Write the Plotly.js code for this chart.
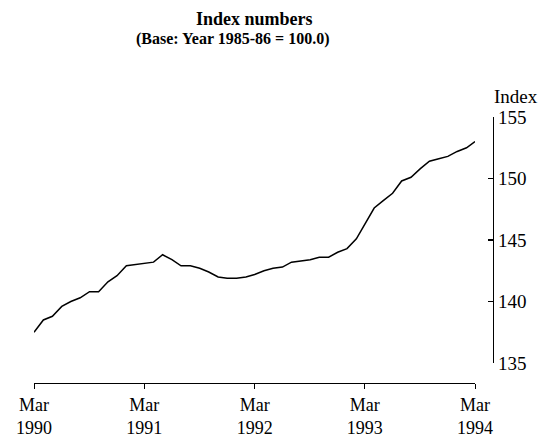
<!DOCTYPE html>
<html>
<head>
<meta charset="utf-8">
<script src="https://cdn.plot.ly/plotly-3.0.1.min.js"></script>
<style>html,body{margin:0;padding:0;background:#fff}#chart{width:544px;height:439px}</style>
</head>
<body>
<div id="chart"></div>
<script>
const months = [
  "1990-03","1990-04","1990-05","1990-06","1990-07","1990-08","1990-09","1990-10","1990-11","1990-12","1991-01","1991-02",
  "1991-03","1991-04","1991-05","1991-06","1991-07","1991-08","1991-09","1991-10","1991-11","1991-12","1992-01","1992-02",
  "1992-03","1992-04","1992-05","1992-06","1992-07","1992-08","1992-09","1992-10","1992-11","1992-12","1993-01","1993-02",
  "1993-03","1993-04","1993-05","1993-06","1993-07","1993-08","1993-09","1993-10","1993-11","1993-12","1994-01","1994-02",
  "1994-03"
];
const indexValues = [
  137.5,138.5,138.8,139.6,140.0,140.3,140.8,140.8,141.6,142.1,142.9,143.0,
  143.1,143.2,143.8,143.4,142.9,142.9,142.7,142.4,142.0,141.9,141.9,142.0,
  142.2,142.5,142.7,142.8,143.2,143.3,143.4,143.6,143.6,144.0,144.3,145.1,
  146.3,147.6,148.2,148.8,149.8,150.1,150.8,151.4,151.6,151.8,152.2,152.5,
  153.0
];
const tickDates = ["1990-03-01","1991-03-01","1992-03-01","1993-03-01","1994-03-01"];
const tickLabels = ["Mar<br>1990","Mar<br>1991","Mar<br>1992","Mar<br>1993","Mar<br>1994"];
const yTicks = [135,140,145,150,155];

const font = {family: "Liberation Serif, Times New Roman, serif", color: "#000"};

const trace = {
  x: months.map(m => m + "-01"),
  y: indexValues,
  type: "scatter",
  mode: "lines",
  line: {color: "#000", width: 1.5},
  hoverinfo: "skip"
};

const layout = {
  width: 544, height: 439,
  margin: {l: 34, r: 51, t: 117, b: 56},
  paper_bgcolor: "#fff", plot_bgcolor: "#fff",
  showlegend: false,
  font: Object.assign({size: 18}, font),
  xaxis: {
    type: "date",
    domain: [0, 441/459],
    range: ["1990-03-01", "1994-03-01"],
    anchor: "free", position: 0,
    tickvals: tickDates, ticktext: tickLabels,
    ticks: "outside", ticklen: 5, tickwidth: 1, tickcolor: "#000",
    ticklabelstandoff: 0,
    showline: true, linecolor: "#000", linewidth: 1.3,
    showgrid: false, zeroline: false,
    tickfont: Object.assign({size: 18}, font)
  },
  yaxis: {
    domain: [20/266, 1],
    range: [135, 155],
    side: "right", anchor: "free", position: 1,
    tickvals: yTicks,
    ticks: "inside", ticklen: 5, tickwidth: 1.3, tickcolor: "#000",
    ticklabelstandoff: 0,
    showline: true, linecolor: "#000", linewidth: 1.3,
    showgrid: false, zeroline: false,
    tickfont: Object.assign({size: 19}, font)
  },
  annotations: [
    {text: "<b>Index numbers</b>", xref: "paper", yref: "paper", x: (254-34)/459, y: 1 + (117-19)/266,
     xanchor: "center", yanchor: "middle", showarrow: false, font: Object.assign({size: 18}, font)},
    {text: "<b>(Base: Year 1985-86 = 100.0)</b>", xref: "paper", yref: "paper", x: (233-34)/459, y: 1 + (117-39)/266,
     xanchor: "center", yanchor: "middle", showarrow: false, font: Object.assign({size: 16}, font)},
    {text: "Index", xref: "paper", yref: "paper", x: (516-34)/459, y: 1 + (117-97)/266,
     xanchor: "center", yanchor: "middle", showarrow: false, font: Object.assign({size: 19}, font)}
  ]
};

Plotly.newPlot("chart", [trace], layout, {displayModeBar: false, staticPlot: true});
</script>
</body>
</html>
